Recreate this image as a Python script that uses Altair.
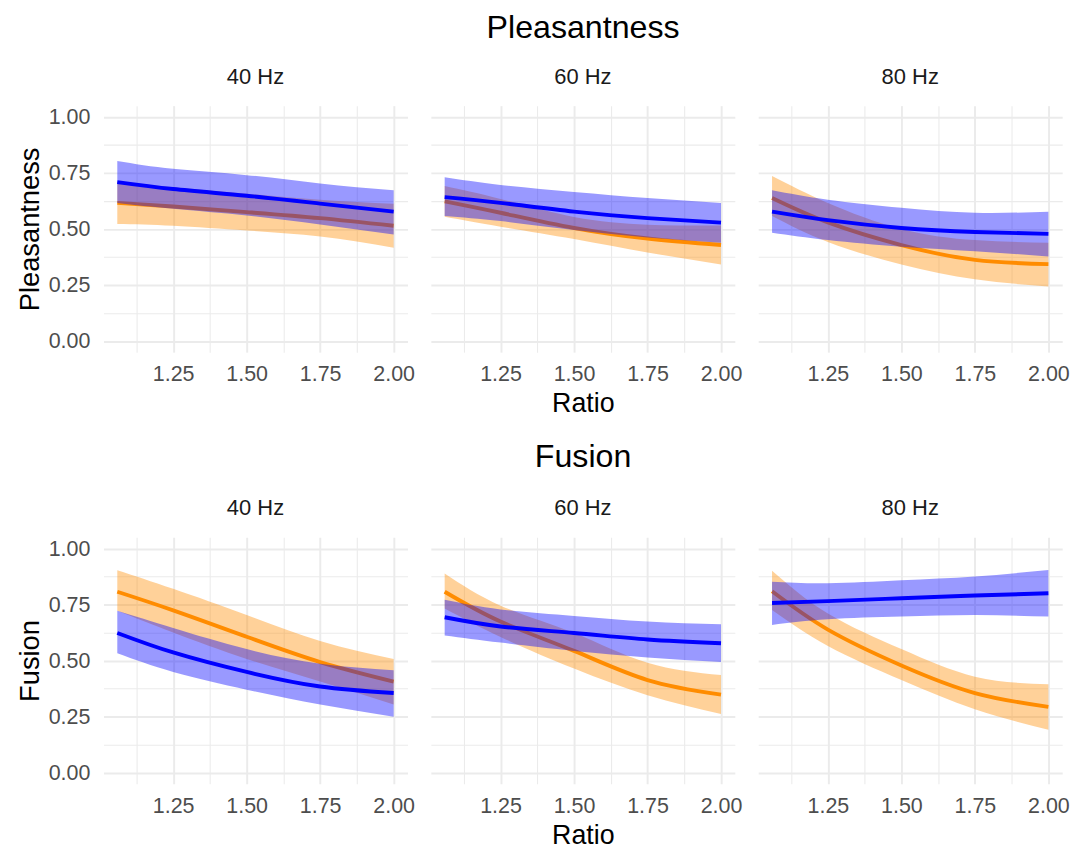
import altair as alt
import pandas as pd

# ---------------- data ----------------
RATIO = [1.06, 1.25, 1.5, 1.75, 2.0]
MEASURES = ["Pleasantness", "Fusion"]
FREQS = ["40 Hz", "60 Hz", "80 Hz"]

# Pleasantness
P40_BLUE_FIT = [0.709, 0.678, 0.648, 0.613, 0.577]
P40_BLUE_LO = [0.616, 0.590, 0.560, 0.520, 0.475]
P40_BLUE_HI = [0.803, 0.768, 0.740, 0.703, 0.672]
P40_ORANGE_FIT = [0.616, 0.600, 0.575, 0.548, 0.514]
P40_ORANGE_LO = [0.522, 0.514, 0.493, 0.466, 0.416]
P40_ORANGE_HI = [0.710, 0.686, 0.657, 0.630, 0.612]

P60_BLUE_FIT = [0.642, 0.616, 0.577, 0.548, 0.528]
P60_BLUE_LO = [0.558, 0.535, 0.495, 0.462, 0.438]
P60_BLUE_HI = [0.730, 0.696, 0.665, 0.638, 0.616]
P60_ORANGE_FIT = [0.623, 0.572, 0.504, 0.457, 0.428]
P60_ORANGE_LO = [0.554, 0.510, 0.455, 0.395, 0.341]
P60_ORANGE_HI = [0.692, 0.634, 0.553, 0.519, 0.515]

P80_BLUE_FIT = [0.577, 0.539, 0.504, 0.486, 0.478]
P80_BLUE_LO = [0.483, 0.450, 0.420, 0.400, 0.377]
P80_BLUE_HI = [0.672, 0.630, 0.594, 0.572, 0.577]
P80_ORANGE_FIT = [0.638, 0.529, 0.428, 0.362, 0.343]
P80_ORANGE_LO = [0.558, 0.442, 0.341, 0.275, 0.243]
P80_ORANGE_HI = [0.736, 0.616, 0.500, 0.450, 0.438]

# Fusion
F40_BLUE_FIT = [0.623, 0.536, 0.449, 0.384, 0.355]
F40_BLUE_LO = [0.532, 0.449, 0.370, 0.304, 0.249]
F40_BLUE_HI = [0.722, 0.645, 0.551, 0.486, 0.457]
F40_ORANGE_FIT = [0.807, 0.724, 0.606, 0.493, 0.406]
F40_ORANGE_LO = [0.722, 0.625, 0.507, 0.406, 0.304]
F40_ORANGE_HI = [0.903, 0.820, 0.703, 0.587, 0.507]

F60_BLUE_FIT = [0.693, 0.652, 0.623, 0.594, 0.577]
F60_BLUE_LO = [0.612, 0.580, 0.543, 0.514, 0.493]
F60_BLUE_HI = [0.771, 0.728, 0.699, 0.674, 0.662]
F60_ORANGE_FIT = [0.807, 0.674, 0.543, 0.413, 0.348]
F60_ORANGE_LO = [0.732, 0.605, 0.464, 0.345, 0.261]
F60_ORANGE_HI = [0.888, 0.745, 0.623, 0.490, 0.435]

F80_BLUE_FIT = [0.757, 0.765, 0.778, 0.790, 0.800]
F80_BLUE_LO = [0.659, 0.684, 0.696, 0.703, 0.696]
F80_BLUE_HI = [0.852, 0.845, 0.858, 0.875, 0.904]
F80_ORANGE_FIT = [0.809, 0.638, 0.478, 0.355, 0.293]
F80_ORANGE_LO = [0.725, 0.565, 0.413, 0.283, 0.191]
F80_ORANGE_HI = [0.901, 0.710, 0.551, 0.428, 0.394]

X_TICKS = [1.25, 1.5, 1.75, 2.0]
X_GRID = [1.125, 1.25, 1.375, 1.5, 1.625, 1.75, 1.875, 2.0]
Y_TICKS = [0.0, 0.25, 0.5, 0.75, 1.0]
Y_GRID = [0.0, 0.125, 0.25, 0.375, 0.5, 0.625, 0.75, 0.875, 1.0]

SERIES = {
    ("Pleasantness", "40 Hz"): {"blue": (P40_BLUE_FIT, P40_BLUE_LO, P40_BLUE_HI),
                                "orange": (P40_ORANGE_FIT, P40_ORANGE_LO, P40_ORANGE_HI)},
    ("Pleasantness", "60 Hz"): {"blue": (P60_BLUE_FIT, P60_BLUE_LO, P60_BLUE_HI),
                                "orange": (P60_ORANGE_FIT, P60_ORANGE_LO, P60_ORANGE_HI)},
    ("Pleasantness", "80 Hz"): {"blue": (P80_BLUE_FIT, P80_BLUE_LO, P80_BLUE_HI),
                                "orange": (P80_ORANGE_FIT, P80_ORANGE_LO, P80_ORANGE_HI)},
    ("Fusion", "40 Hz"): {"blue": (F40_BLUE_FIT, F40_BLUE_LO, F40_BLUE_HI),
                          "orange": (F40_ORANGE_FIT, F40_ORANGE_LO, F40_ORANGE_HI)},
    ("Fusion", "60 Hz"): {"blue": (F60_BLUE_FIT, F60_BLUE_LO, F60_BLUE_HI),
                          "orange": (F60_ORANGE_FIT, F60_ORANGE_LO, F60_ORANGE_HI)},
    ("Fusion", "80 Hz"): {"blue": (F80_BLUE_FIT, F80_BLUE_LO, F80_BLUE_HI),
                          "orange": (F80_ORANGE_FIT, F80_ORANGE_LO, F80_ORANGE_HI)},
}

rows = []
for (measure, freq), d in SERIES.items():
    for series, (fit, lo, hi) in d.items():
        for r, f, l, h in zip(RATIO, fit, lo, hi):
            rows.append(dict(measure=measure, freq=freq, series=series,
                             ratio=r, fit=f, lo=l, hi=h))
df = pd.DataFrame(rows)

COLORS = {"blue": "#0000FF", "orange": "#FF8C00"}
FONT = "Liberation Sans"
CURVE = "natural"

W, H = 312, 253
xscale = alt.Scale(domain=[1.013, 2.047], nice=False, zero=False)
yscale = alt.Scale(domain=[-0.05, 1.05], nice=False, zero=False)

x_major = "indexof([1.25,1.5,1.75,2], datum.value) >= 0"
y_major = "indexof([0,0.25,0.5,0.75,1], datum.value) >= 0"


def x_axis(show_title):
    kw = dict(values=X_GRID,
              labelExpr=f"{x_major} ? format(datum.value, '.2f') : ''",
              gridWidth={"condition": {"test": f"!({x_major})", "value": 1.1}, "value": 2},
              labelPadding=12, titlePadding=6)
    kw["title"] = "Ratio" if show_title else None
    return alt.Axis(**kw)


def y_axis(title, show_labels):
    kw = dict(values=Y_GRID,
              gridWidth={"condition": {"test": f"!({y_major})", "value": 1.1}, "value": 2},
              labelPadding=14, titlePadding=4)
    if show_labels:
        kw["labelExpr"] = f"{y_major} ? format(datum.value, '.2f') : ''"
        kw["title"] = title
    else:
        kw["labels"] = False
        kw["title"] = None
    return alt.Axis(**kw)


def panel(measure, freq, i):
    base = alt.Chart(df).transform_filter(
        (alt.datum.measure == measure) & (alt.datum.freq == freq)
    )
    xa = x_axis(i == 1)
    ya = y_axis(measure, i == 0)
    layers = []
    for s in ["orange", "blue"]:
        sub = base.transform_filter(alt.datum.series == s)
        band = sub.mark_area(color=COLORS[s], opacity=0.4, interpolate=CURVE).encode(
            x=alt.X("ratio:Q", scale=xscale, axis=xa),
            y=alt.Y("lo:Q", scale=yscale, axis=ya),
            y2="hi:Q",
        )
        line = sub.mark_line(color=COLORS[s], strokeWidth=4, interpolate=CURVE).encode(
            x=alt.X("ratio:Q", scale=xscale, axis=xa),
            y=alt.Y("fit:Q", scale=yscale, axis=ya),
        )
        layers += [band, line]
    return alt.layer(*layers).properties(
        width=W, height=H,
        title=alt.TitleParams(freq, fontSize=22.5, fontWeight="normal", color="#1A1A1A",
                              anchor="middle", baseline="alphabetic", offset=0, font=FONT),
    )


def row(measure, title_offset):
    return alt.hconcat(*[panel(measure, f, i) for i, f in enumerate(FREQS)], spacing=15).properties(
        title=alt.TitleParams(measure, fontSize=33, fontWeight="normal", color="#000000",
                              anchor="middle", baseline="alphabetic", offset=title_offset,
                              dx=41, font=FONT)
    )


chart = alt.vconcat(row("Pleasantness", -5), row("Fusion", -2), spacing=25).properties(
    padding={"left": 8, "right": 0, "top": -6, "bottom": 0}
).configure(font=FONT).configure_view(stroke="transparent").configure_axis(
    domain=False, ticks=False, labelColor="#4D4D4D", labelFontSize=22,
    titleFontSize=27.5, titleColor="#000000", titleFontWeight="normal",
    gridColor="#EBEBEB", labelFont=FONT, titleFont=FONT,
).configure_axisY(titleFontSize=28)

chart.save("out.html", embed_options={"renderer": "svg", "actions": False})
